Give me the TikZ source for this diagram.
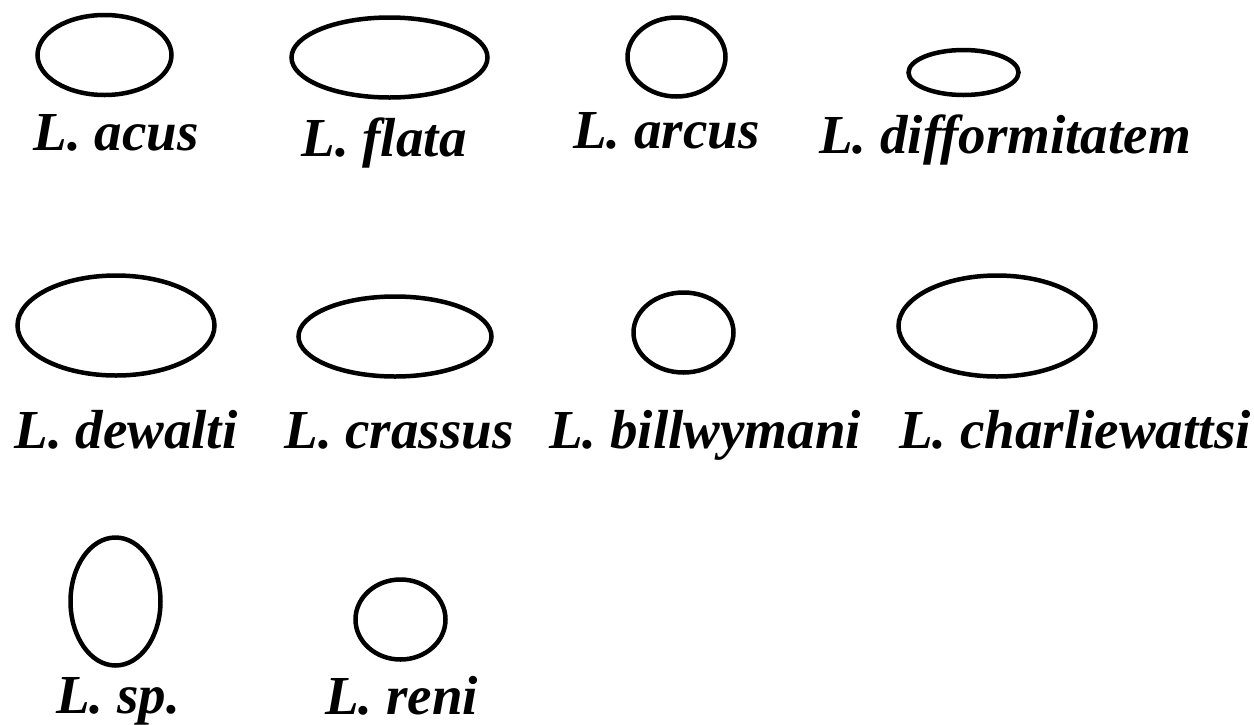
\documentclass[tikz,border=0pt]{standalone}
\usepackage{fontspec}
\setmainfont{Liberation Serif}
\usetikzlibrary{shapes.geometric}
\tikzset{
  cell/.style={draw=black, line width=4.5pt, ellipse, inner sep=0pt, fill=none},
  lab/.style={anchor=base, inner sep=0pt, font=\fontsize{55}{60}\selectfont\bfseries\itshape}
}
\begin{document}
\begin{tikzpicture}[x=1pt,y=-1pt]
\useasboundingbox[fill=white] (0,0) rectangle (1254,724);
% row 1
\node[cell, minimum width=134pt, minimum height=80pt] (e1) at (104.5,55) {};
\node[cell, minimum width=196pt, minimum height=80pt] (e2) at (389.5,57.5) {};
\node[cell, minimum width=98pt, minimum height=79pt] (e3) at (676.5,57) {};
\node[cell, minimum width=110pt, minimum height=45pt] (e4) at (963.5,72.5) {};
\node[lab] (t1) at (116,150) {L. acus};
\node[lab] (t2) at (384,156) {L. flata};
\node[lab] (t3) at (666.5,148) {L. arcus};
\node[lab] (t4) at (1005,153) {L. difformitatem};
% row 2
\node[cell, minimum width=197pt, minimum height=100pt] (e5) at (116,325.5) {};
\node[cell, minimum width=193pt, minimum height=80pt] (e6) at (395,336.5) {};
\node[cell, minimum width=100pt, minimum height=80pt] (e7) at (683.5,332.5) {};
\node[cell, minimum width=197pt, minimum height=101pt] (e8) at (997,326) {};
\node[lab] (t5) at (126,448) {L. dewalti};
\node[lab] (t6) at (399,448) {L. crassus};
\node[lab] (t7) at (705,448) {L. billwymani};
\node[lab] (t8) at (1075,448) {L. charliewattsi};
% row 3
\node[cell, minimum width=90pt, minimum height=128pt] (e9) at (115.5,601.5) {};
\node[cell, minimum width=90pt, minimum height=80pt] (e10) at (400.5,619.5) {};
\node[lab] (t9) at (118,713) {L. sp.};
\node[lab] (t10) at (401.5,714) {L. reni};
\end{tikzpicture}
\end{document}
